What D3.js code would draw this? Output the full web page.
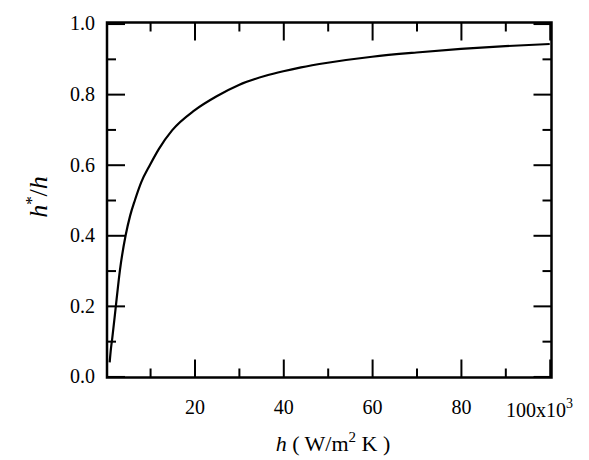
<!DOCTYPE html>
<html>
<head>
<meta charset="utf-8">
<script src="https://cdn.jsdelivr.net/npm/d3@7"></script>
<style>
  body { margin: 0; background: #fff; }
</style>
</head>
<body>
<svg id="chart" width="589" height="460"></svg>
<script>
// h in units of 10^3 W/m2K, ratio h*/h
const hValues = [0.9, 1.2, 1.5, 2.3, 3.2, 4.5, 5.5, 6.6, 8.0, 10, 12, 15, 20, 25, 30, 36, 40, 44, 50, 60, 70, 80, 90, 100];
const ratioValues = [0.04, 0.08, 0.11, 0.20, 0.30, 0.40, 0.455, 0.50, 0.55, 0.60, 0.645, 0.698, 0.754, 0.794, 0.826, 0.852, 0.865, 0.876, 0.889, 0.906, 0.918, 0.928, 0.936, 0.942];

const xMajor = [20, 40, 60, 80, 100];
const xMinor = [10, 30, 50, 70, 90];
const yMajor = [0, 0.2, 0.4, 0.6, 0.8, 1.0];
const yMinor = [0.1, 0.3, 0.5, 0.7, 0.9];

const serif = 'Liberation Serif';

const svg = d3.select('#chart');

const x = d3.scaleLinear().domain([0.3, 100.4]).range([107, 551.5]);
const y = d3.scaleLinear().domain([-0.003, 1.003]).range([377.5, 22.5]);

const fmtY = d3.format('.1f');
const xLabel = d => d === 100 ? '' : d;

// bottom
const gb = svg.append('g').attr('transform', `translate(0,${y.range()[0]})`);
gb.call(d3.axisBottom(x).tickValues(xMajor).tickSize(-18).tickPadding(22).tickFormat(xLabel));
gb.append('g').call(d3.axisBottom(x).tickValues(xMinor).tickSize(-9).tickFormat(''));

// top
const gt = svg.append('g').attr('transform', `translate(0,${y.range()[1]})`);
gt.call(d3.axisTop(x).tickValues(xMajor).tickSize(-18).tickFormat(''));
gt.append('g').call(d3.axisTop(x).tickValues(xMinor).tickSize(-9).tickFormat(''));

// left
const gl = svg.append('g').attr('transform', `translate(${x.range()[0]},0)`);
gl.call(d3.axisLeft(y).tickValues(yMajor).tickSize(-18).tickPadding(12).tickFormat(fmtY));
gl.append('g').call(d3.axisLeft(y).tickValues(yMinor).tickSize(-9).tickFormat(''));

// right
const gr = svg.append('g').attr('transform', `translate(${x.range()[1]},0)`);
gr.call(d3.axisRight(y).tickValues(yMajor).tickSize(-18).tickFormat(''));
gr.append('g').call(d3.axisRight(y).tickValues(yMinor).tickSize(-9).tickFormat(''));

svg.selectAll('.domain').remove();
svg.selectAll('g').attr('font-family', serif).attr('font-size', 20);
svg.selectAll('.tick line').attr('stroke', '#000').attr('stroke-width', 2);
svg.selectAll('.tick text')
  .attr('fill', '#000')
  .attr('font-family', serif)
  .attr('font-size', 20);

// 100x10^3 label
const lab = svg.append('text')
  .attr('x', 506)
  .attr('y', 417)
  .attr('font-family', serif)
  .attr('font-size', 20);
lab.append('tspan').text('100x10');
lab.append('tspan').attr('dy', -9).attr('font-size', 14).text('3');

// frame
svg.append('rect')
  .attr('x', x.range()[0])
  .attr('y', y.range()[1])
  .attr('width', x.range()[1] - x.range()[0])
  .attr('height', y.range()[0] - y.range()[1])
  .attr('fill', 'none')
  .attr('stroke', '#000')
  .attr('stroke-width', 2.5);

// curve
const line = d3.line()
  .x((d, i) => x(hValues[i]))
  .y(d => y(d))
  .curve(d3.curveMonotoneX);

svg.append('path')
  .datum(ratioValues)
  .attr('d', line)
  .attr('fill', 'none')
  .attr('stroke', '#000')
  .attr('stroke-width', 2.2);

// x title
const xt = svg.append('text')
  .attr('x', 333)
  .attr('y', 451)
  .attr('text-anchor', 'middle')
  .attr('font-family', serif)
  .attr('font-size', 22);
xt.append('tspan').attr('font-style', 'italic').text('h');
xt.append('tspan').text(' ( W/m');
xt.append('tspan').attr('dy', -9).attr('font-size', 15).text('2');
xt.append('tspan').attr('dy', 9).text(' K )');

// y title
const yt = svg.append('text')
  .attr('transform', 'translate(47,197) rotate(-90)')
  .attr('text-anchor', 'middle')
  .attr('font-family', serif)
  .attr('font-size', 26);
yt.append('tspan').attr('font-style', 'italic').text('h');
yt.append('tspan').attr('dy', -10).attr('font-size', 17).text('*');
yt.append('tspan').attr('dy', 10).text('/');
yt.append('tspan').attr('font-style', 'italic').text('h');
</script>
</body>
</html>
